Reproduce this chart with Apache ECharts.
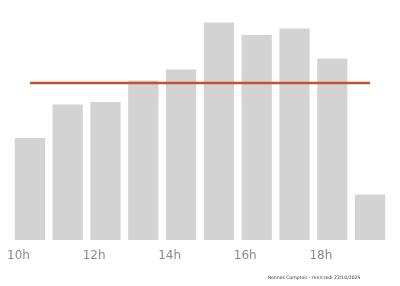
<!DOCTYPE html>
<html>
<head>
<meta charset="utf-8">
<script src="https://cdn.jsdelivr.net/npm/echarts@6/dist/echarts.min.js"></script>
<style>html,body{margin:0;padding:0;background:#fff;}#c{width:400px;height:286px;}</style>
</head>
<body>
<div id="c"></div>
<script>
const categories = ['10h','11h','12h','13h','14h','15h','16h','17h','18h','19h'];
const counts = [204, 271, 276, 319, 341, 435, 410, 423, 363, 91];
const average = [314, 314, 314, 314, 314, 314, 314, 314, 314, 314];
const footer = 'Rennes Comptoir - mercredi 22/10/2025';

const chart = echarts.init(document.getElementById('c'), null, {renderer: 'canvas'});
chart.setOption({
  animation: false,
  backgroundColor: '#ffffff',
  grid: {left: 11, right: 11, top: 15, bottom: 46, containLabel: false},
  xAxis: {
    type: 'category',
    data: categories,
    axisLine: {show: false},
    axisTick: {show: false},
    axisLabel: {
      interval: 1,
      align: 'right',
      margin: 10,
      color: '#8a8a8a',
      fontSize: 12,
      fontFamily: 'DejaVu Sans'
    }
  },
  yAxis: {
    type: 'value',
    min: 0,
    max: 450,
    show: false,
    splitLine: {show: false}
  },
  graphic: [{
    type: 'text',
    left: 268,
    top: 275.5,
    style: {text: footer, fontSize: 4.6, fill: '#333', fontFamily: 'DejaVu Sans'}
  }],
  series: [
    {
      type: 'bar',
      data: counts,
      barCategoryGap: '20%',
      itemStyle: {color: '#d3d3d3'}
    },
    {
      type: 'line',
      data: average,
      symbol: 'none',
      lineStyle: {color: '#c4522a', width: 2.5},
      z: 5
    }
  ]
});
</script>
</body>
</html>
